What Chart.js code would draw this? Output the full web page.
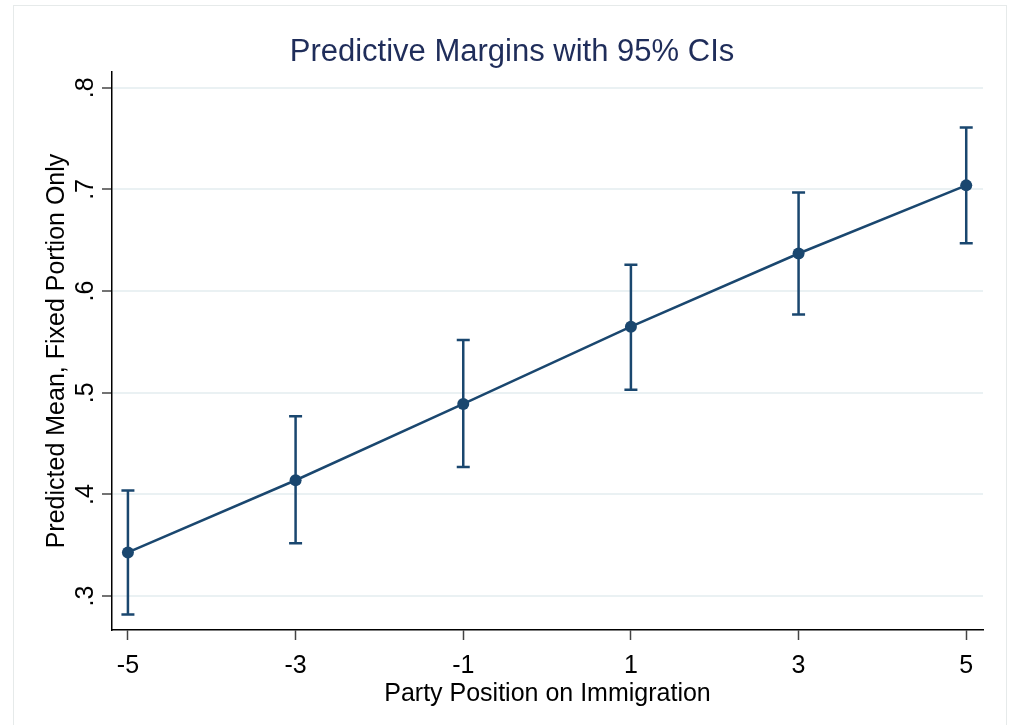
<!DOCTYPE html>
<html>
<head>
<meta charset="utf-8">
<script src="https://cdn.jsdelivr.net/npm/chart.js@4.4.1/dist/chart.umd.min.js"></script>
<style>
  html, body { margin: 0; padding: 0; background: #fff; }
  #wrap { width: 1009px; height: 725px; position: relative; }
</style>
</head>
<body>
<div id="wrap"><canvas id="chart" width="1009" height="725"></canvas></div>
<script>
// party position on immigration (x categories)
const positions = [-5, -3, -1, 1, 3, 5];
// predicted mean, fixed portion only
const margins = [0.343, 0.414, 0.489, 0.565, 0.637, 0.704];
// 95% confidence interval bounds
const ciLower = [0.282, 0.352, 0.427, 0.503, 0.577, 0.647];
const ciUpper = [0.404, 0.477, 0.552, 0.626, 0.697, 0.761];

const xTickValues = [-5, -3, -1, 1, 3, 5];
const xTickLabels = ['-5', '-3', '-1', '1', '3', '5'];
const yTickValues = [0.3, 0.4, 0.5, 0.6, 0.7, 0.8];
const yTickLabels = ['.3', '.4', '.5', '.6', '.7', '.8'];

const chartTitle = 'Predictive Margins with 95% CIs';
const xTitle = 'Party Position on Immigration';
const yTitle = 'Predicted Mean, Fixed Portion Only';

const NAVY = '#1a476f';
const FONT = '"Liberation Sans", Arial, sans-serif';

// caps + whiskers for the CIs, drawn under the points
const errorBars = {
    id: 'errorBars',
    beforeDatasetsDraw(chart) {
        const { ctx, scales: { x, y } } = chart;
        ctx.save();
        ctx.strokeStyle = NAVY;
        ctx.lineWidth = 2.5;
        positions.forEach((p, i) => {
            const px = x.getPixelForValue(p);
            const lo = y.getPixelForValue(ciLower[i]);
            const hi = y.getPixelForValue(ciUpper[i]);
            ctx.beginPath();
            ctx.moveTo(px, lo); ctx.lineTo(px, hi);
            ctx.moveTo(px - 6.5, lo); ctx.lineTo(px + 6.5, lo);
            ctx.moveTo(px - 6.5, hi); ctx.lineTo(px + 6.5, hi);
            ctx.stroke();
        });
        ctx.restore();
    }
};

// stata-like text: title, rotated y labels, axis titles, outer frame
const stataText = {
    id: 'stataText',
    afterDraw(chart) {
        const { ctx, scales: { x, y }, chartArea } = chart;
        ctx.save();

        ctx.strokeStyle = '#e6eaea';
        ctx.lineWidth = 1;
        ctx.strokeRect(13.5, 5.5, 993, 730);

        ctx.fillStyle = '#1f2d5a';
        ctx.font = '31px ' + FONT;
        ctx.textAlign = 'center';
        ctx.textBaseline = 'alphabetic';
        ctx.fillText(chartTitle, 512, 61);

        ctx.fillStyle = '#000';
        ctx.font = '25px ' + FONT;
        xTickValues.forEach((v, i) => {
            ctx.fillText(xTickLabels[i], x.getPixelForValue(v), 673);
        });
        ctx.fillText(xTitle, (chartArea.left + chartArea.right) / 2, 701);

        yTickValues.forEach((v, i) => {
            ctx.save();
            ctx.translate(93, y.getPixelForValue(v));
            ctx.rotate(-Math.PI / 2);
            ctx.fillText(yTickLabels[i], 0, 0);
            ctx.restore();
        });

        ctx.save();
        ctx.translate(64, (chartArea.top + chartArea.bottom) / 2);
        ctx.rotate(-Math.PI / 2);
        ctx.fillText(yTitle, 0, 0);
        ctx.restore();

        ctx.restore();
    }
};

new Chart(document.getElementById('chart'), {
    type: 'line',
    data: {
        datasets: [{
            data: positions.map((p, i) => ({ x: p, y: margins[i] })),
            borderColor: NAVY,
            backgroundColor: NAVY,
            borderWidth: 2.5,
            pointRadius: 6,
            pointHoverRadius: 6,
            pointBackgroundColor: NAVY,
            pointBorderWidth: 0,
            tension: 0
        }]
    },
    options: {
        responsive: false,
        animation: false,
        layout: { padding: { left: 0, right: 26, top: 72, bottom: 0 } },
        plugins: {
            legend: { display: false },
            title: { display: false },
            tooltip: { enabled: false }
        },
        scales: {
            x: {
                type: 'linear',
                min: -5.19,
                max: 5.2,
                afterBuildTicks: (s) => { s.ticks = xTickValues.map(v => ({ value: v })); },
                afterFit: (s) => { s.height = 95; },
                ticks: { display: false },
                grid: {
                    display: true,
                    drawOnChartArea: false,
                    drawTicks: true,
                    tickLength: 10,
                    tickColor: '#444',
                    tickWidth: 1.5
                },
                border: { display: true, color: '#000', width: 1.5 }
            },
            y: {
                type: 'linear',
                min: 0.2667,
                max: 0.8155,
                afterBuildTicks: (s) => { s.ticks = yTickValues.map(v => ({ value: v })); },
                afterFit: (s) => { s.width = 112; },
                ticks: { display: false },
                grid: {
                    display: true,
                    drawOnChartArea: true,
                    color: '#eaf1f3',
                    lineWidth: 2,
                    drawTicks: true,
                    tickLength: 10,
                    tickColor: '#444',
                    tickWidth: 1.5
                },
                border: { display: true, color: '#000', width: 1.5 }
            }
        }
    },
    plugins: [errorBars, stataText]
});
</script>
</body>
</html>
